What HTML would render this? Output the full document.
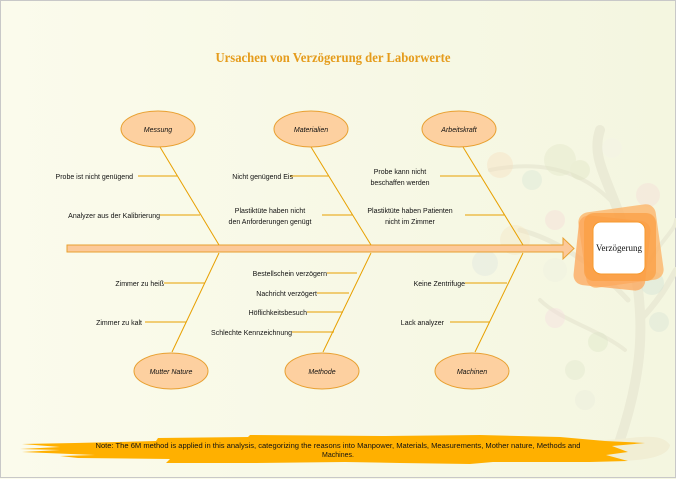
<!DOCTYPE html>
<html><head><meta charset="utf-8"><style>
html,body{margin:0;padding:0;background:#fafae9}
svg{display:block}
text{font-family:"Liberation Sans",sans-serif;font-size:7px;fill:#111}
</style></head><body>
<svg width="676" height="479" viewBox="0 0 676 479" xmlns="http://www.w3.org/2000/svg">
<defs>
<linearGradient id="bg" x1="0" x2="1" y1="0" y2="0"><stop offset="0" stop-color="#fbfbec"/><stop offset="1" stop-color="#f4f6e0"/></linearGradient>
</defs>
<rect x="0" y="0" width="676" height="479" fill="url(#bg)"/>
<rect x="0.5" y="0.5" width="675" height="477" fill="none" stroke="#c8c8c8"/>
<!-- tree -->
<g fill="none" stroke="#ebebd6" stroke-linecap="round">
<path d="M620 440 C640 380 650 320 628 240 C610 180 590 160 600 130" stroke-width="10"/>
<path d="M640 320 C660 300 670 280 676 270" stroke-width="6"/>
<path d="M628 300 C600 270 560 240 520 230" stroke-width="5"/>
<path d="M610 200 C580 170 540 160 490 170" stroke-width="4"/>
<path d="M625 350 C600 330 560 320 540 300" stroke-width="4"/>
<path d="M645 270 C660 240 676 230 676 220" stroke-width="4"/>
</g>
<path d="M600 440 C630 440 660 430 670 445 C668 462 620 462 590 460 Z" fill="#f1eed4"/>
<g opacity="0.4">
<circle cx="500" cy="165" r="13" fill="#f6dfc0"/><circle cx="532" cy="180" r="10" fill="#d8e6d6"/>
<circle cx="560" cy="160" r="16" fill="#e3e8c8"/><circle cx="580" cy="170" r="10" fill="#dfe5c4"/>
<circle cx="612" cy="148" r="10" fill="#f3f3e8"/><circle cx="648" cy="195" r="12" fill="#f4dcd8"/>
<circle cx="555" cy="220" r="10" fill="#f5dad6"/><circle cx="515" cy="240" r="15" fill="#f5e6c4"/>
<circle cx="485" cy="263" r="13" fill="#dfe6e0"/><circle cx="555" cy="270" r="12" fill="#eef0e0"/>
<circle cx="652" cy="283" r="12" fill="#cfe2d6"/><circle cx="555" cy="318" r="10" fill="#f5dde0"/>
<circle cx="575" cy="370" r="10" fill="#e0e6cc"/><circle cx="598" cy="342" r="10" fill="#dde6c8"/>
<circle cx="659" cy="322" r="10" fill="#d8e4d6"/><circle cx="585" cy="400" r="10" fill="#e8ecdc"/>
</g>
<!-- title -->
<text x="333" y="62" text-anchor="middle" textLength="235" lengthAdjust="spacingAndGlyphs" style="font-family:'Liberation Serif',serif;font-weight:bold;font-size:14px;fill:#e59c1c">Ursachen von Verzögerung der Laborwerte</text>
<!-- spine -->
<path d="M67 245 H563 V238 L574 248.5 L563 259 V252 H67 Z" fill="#fcc99a" stroke="#e8a030" stroke-width="1"/>
<!-- bones -->
<g stroke="#e8a000" stroke-width="1" fill="none">
<line x1="160" y1="147" x2="219" y2="245"/>
<line x1="311" y1="147" x2="371" y2="245"/>
<line x1="463" y1="147" x2="523" y2="245"/>
<line x1="219" y1="253" x2="172" y2="352"/>
<line x1="371" y1="253" x2="323" y2="352"/>
<line x1="523" y1="253" x2="475" y2="352"/>
<line x1="138" y1="176" x2="177" y2="176"/>
<line x1="160" y1="215" x2="200" y2="215"/>
<line x1="290" y1="176" x2="329" y2="176"/>
<line x1="322" y1="215" x2="353" y2="215"/>
<line x1="440" y1="176" x2="481" y2="176"/>
<line x1="465" y1="215" x2="505" y2="215"/>
<line x1="164" y1="283" x2="205" y2="283"/>
<line x1="145" y1="322" x2="186" y2="322"/>
<line x1="327" y1="273" x2="357" y2="273"/>
<line x1="317" y1="293" x2="349" y2="293"/>
<line x1="307" y1="312" x2="343" y2="312"/>
<line x1="292" y1="332" x2="334" y2="332"/>
<line x1="465" y1="283" x2="507" y2="283"/>
<line x1="450" y1="322" x2="490" y2="322"/>
</g>
<!-- ellipses -->
<g fill="#fdd0a0" stroke="#e8a030" stroke-width="1">
<ellipse cx="158" cy="129" rx="37" ry="18"/>
<ellipse cx="311" cy="129" rx="37" ry="18"/>
<ellipse cx="459" cy="129" rx="37" ry="18"/>
<ellipse cx="171" cy="371" rx="37" ry="18"/>
<ellipse cx="322" cy="371" rx="37" ry="18"/>
<ellipse cx="472" cy="371" rx="37" ry="18"/>
</g>
<g text-anchor="middle" style="font-style:italic">
<text x="158" y="132">Messung</text>
<text x="311" y="132">Materialien</text>
<text x="459" y="132">Arbeitskraft</text>
<text x="171" y="374">Mutter Nature</text>
<text x="322" y="374">Methode</text>
<text x="472" y="374">Machinen</text>
</g>
<!-- labels -->
<g text-anchor="end">
<text x="133" y="179">Probe ist nicht genügend</text>
<text x="160" y="218">Analyzer aus der Kalibrierung</text>
<text x="293" y="179">Nicht genügend Eis</text>
<text x="164" y="286">Zimmer zu heiß</text>
<text x="142" y="325">Zimmer zu kalt</text>
<text x="327" y="276">Bestellschein verzögern</text>
<text x="317" y="296">Nachricht verzögert</text>
<text x="307" y="315">Höflichkeitsbesuch</text>
<text x="292" y="335">Schlechte Kennzeichnung</text>
<text x="465" y="286">Keine Zentrifuge</text>
<text x="444" y="325">Lack analyzer</text>
</g>
<g text-anchor="middle">
<text x="270" y="213">Plastiktüte haben nicht</text>
<text x="270" y="224">den Anforderungen genügt</text>
<text x="400" y="174">Probe kann nicht</text>
<text x="400" y="185">beschaffen werden</text>
<text x="410" y="213">Plastiktüte haben Patienten</text>
<text x="410" y="224">nicht im Zimmer</text>
</g>
<!-- effect -->
<g>
<rect x="582" y="208" width="78" height="76" rx="10" fill="#fdb56a" opacity="0.8" transform="rotate(-8 621 246)"/>
<rect x="576" y="218" width="72" height="70" rx="10" fill="#fca65a" opacity="0.75" transform="rotate(6 612 253)"/>
<rect x="584" y="213" width="72" height="68" rx="10" fill="#fb9c40" opacity="0.7"/>
<rect x="593" y="222" width="52" height="52" rx="8" fill="#fff" stroke="#f79a2e" stroke-width="1"/>
<text x="619" y="251" text-anchor="middle" textLength="46" lengthAdjust="spacingAndGlyphs" style="font-family:'Liberation Serif',serif;font-size:9px">Verzögerung</text>
</g>
<!-- note banner -->
<path d="M22 444 L75 443 L156 441 L158 438 L248 437 L250 435 L385 436 L480 435 L560 437 L605 441 L645 443 L612 446 L628 452 L606 455 L628 461 L590 462 L493 462 L470 464 L400 463 L345 462 L256 463 L166 463 L170 459 L78 458 L60 456 L95 455 L22 452 L60 450 L20 449 L60 447 Z" fill="#ffb000"/>
<text x="338" y="448" text-anchor="middle" textLength="485" lengthAdjust="spacingAndGlyphs">Note: The 6M method is applied in this analysis, categorizing the reasons into Manpower, Materials, Measurements, Mother nature, Methods and</text>
<text x="338" y="457" text-anchor="middle">Machines.</text>
</svg>
</body></html>
